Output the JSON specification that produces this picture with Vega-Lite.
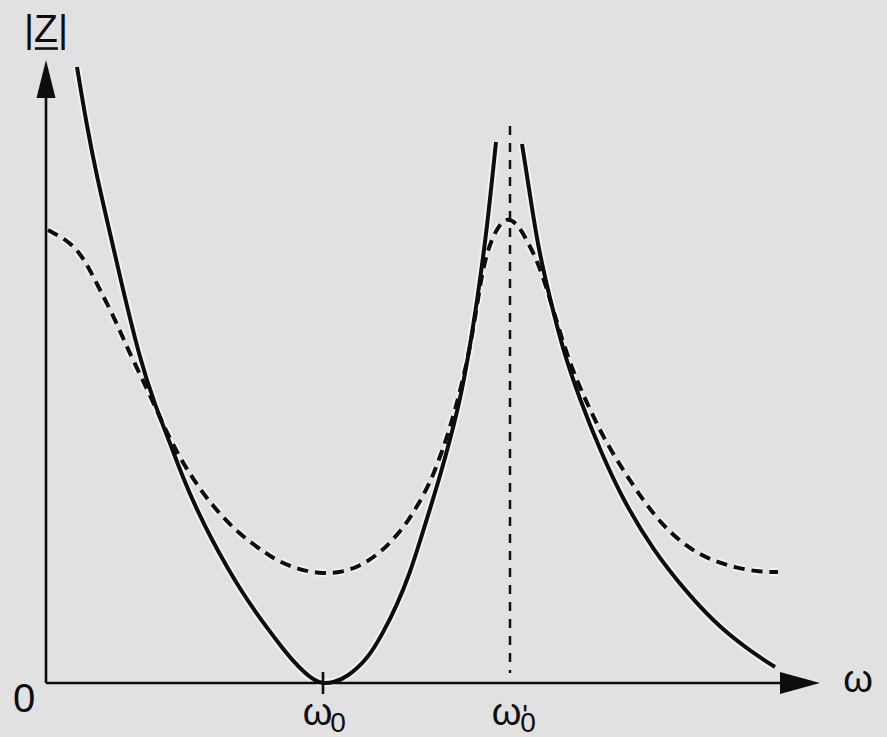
{
  "$schema": "https://vega.github.io/schema/vega-lite/v6.json",
  "width": 887,
  "height": 737,
  "padding": 0,
  "autosize": "none",
  "background": "#e1e1e1",
  "config": {"view": {"stroke": null}},
  "datasets": {
    "curves": [
      {"b": "A", "s": "solid", "i": 1, "w": 0.1119, "z": 6.16},
      {"b": "A", "s": "solid", "i": 2, "w": 0.1480, "z": 5.56},
      {"b": "A", "s": "solid", "i": 3, "w": 0.1841, "z": 5.06},
      {"b": "A", "s": "solid", "i": 4, "w": 0.2202, "z": 4.63},
      {"b": "A", "s": "solid", "i": 5, "w": 0.2671, "z": 4.06},
      {"b": "A", "s": "solid", "i": 6, "w": 0.3394, "z": 3.23},
      {"b": "A", "s": "solid", "i": 7, "w": 0.3935, "z": 2.78},
      {"b": "A", "s": "solid", "i": 8, "w": 0.4477, "z": 2.40},
      {"b": "A", "s": "solid", "i": 9, "w": 0.4946, "z": 2.05},
      {"b": "A", "s": "solid", "i": 10, "w": 0.5451, "z": 1.73},
      {"b": "A", "s": "solid", "i": 11, "w": 0.5993, "z": 1.43},
      {"b": "A", "s": "solid", "i": 12, "w": 0.6534, "z": 1.16},
      {"b": "A", "s": "solid", "i": 13, "w": 0.7076, "z": 0.91},
      {"b": "A", "s": "solid", "i": 14, "w": 0.7617, "z": 0.69},
      {"b": "A", "s": "solid", "i": 15, "w": 0.8014, "z": 0.54},
      {"b": "A", "s": "solid", "i": 16, "w": 0.8448, "z": 0.38},
      {"b": "A", "s": "solid", "i": 17, "w": 0.8917, "z": 0.22},
      {"b": "A", "s": "solid", "i": 18, "w": 0.9350, "z": 0.10},
      {"b": "A", "s": "solid", "i": 19, "w": 0.9675, "z": 0.03},
      {"b": "A", "s": "solid", "i": 20, "w": 1.0, "z": -0.01},
      {"b": "A", "s": "solid", "i": 21, "w": 1.0433, "z": 0.01},
      {"b": "A", "s": "solid", "i": 22, "w": 1.0866, "z": 0.06},
      {"b": "A", "s": "solid", "i": 23, "w": 1.1588, "z": 0.23},
      {"b": "A", "s": "solid", "i": 24, "w": 1.2166, "z": 0.50},
      {"b": "A", "s": "solid", "i": 25, "w": 1.2671, "z": 0.78},
      {"b": "A", "s": "solid", "i": 26, "w": 1.3141, "z": 1.10},
      {"b": "A", "s": "solid", "i": 27, "w": 1.3502, "z": 1.42},
      {"b": "A", "s": "solid", "i": 28, "w": 1.3863, "z": 1.74},
      {"b": "A", "s": "solid", "i": 29, "w": 1.4224, "z": 2.07},
      {"b": "A", "s": "solid", "i": 30, "w": 1.4585, "z": 2.43},
      {"b": "A", "s": "solid", "i": 31, "w": 1.4946, "z": 2.83},
      {"b": "A", "s": "solid", "i": 32, "w": 1.5235, "z": 3.25},
      {"b": "A", "s": "solid", "i": 33, "w": 1.5560, "z": 3.81},
      {"b": "A", "s": "solid", "i": 34, "w": 1.5921, "z": 4.54},
      {"b": "A", "s": "solid", "i": 35, "w": 1.6245, "z": 5.41},
      {"b": "B", "s": "solid", "i": 1, "w": 1.7184, "z": 5.39},
      {"b": "B", "s": "solid", "i": 2, "w": 1.7473, "z": 4.88},
      {"b": "B", "s": "solid", "i": 3, "w": 1.7762, "z": 4.36},
      {"b": "B", "s": "solid", "i": 4, "w": 1.8195, "z": 3.84},
      {"b": "B", "s": "solid", "i": 5, "w": 1.8664, "z": 3.33},
      {"b": "B", "s": "solid", "i": 6, "w": 1.9278, "z": 2.83},
      {"b": "B", "s": "solid", "i": 7, "w": 2.0, "z": 2.33},
      {"b": "B", "s": "solid", "i": 8, "w": 2.0830, "z": 1.83},
      {"b": "B", "s": "solid", "i": 9, "w": 2.1913, "z": 1.33},
      {"b": "B", "s": "solid", "i": 10, "w": 2.3141, "z": 0.90},
      {"b": "B", "s": "solid", "i": 11, "w": 2.4332, "z": 0.55},
      {"b": "B", "s": "solid", "i": 12, "w": 2.5523, "z": 0.30},
      {"b": "B", "s": "solid", "i": 13, "w": 2.6318, "z": 0.16},
      {"b": "D", "s": "dashed", "i": 1, "w": 0.0072, "z": 4.53},
      {"b": "D", "s": "dashed", "i": 2, "w": 0.0758, "z": 4.43},
      {"b": "D", "s": "dashed", "i": 3, "w": 0.1227, "z": 4.30},
      {"b": "D", "s": "dashed", "i": 4, "w": 0.1588, "z": 4.13},
      {"b": "D", "s": "dashed", "i": 5, "w": 0.1949, "z": 3.93},
      {"b": "D", "s": "dashed", "i": 6, "w": 0.2383, "z": 3.70},
      {"b": "D", "s": "dashed", "i": 7, "w": 0.2780, "z": 3.45},
      {"b": "D", "s": "dashed", "i": 8, "w": 0.3141, "z": 3.23},
      {"b": "D", "s": "dashed", "i": 9, "w": 0.3755, "z": 2.88},
      {"b": "D", "s": "dashed", "i": 10, "w": 0.4477, "z": 2.43},
      {"b": "D", "s": "dashed", "i": 11, "w": 0.5199, "z": 2.08},
      {"b": "D", "s": "dashed", "i": 12, "w": 0.6029, "z": 1.76},
      {"b": "D", "s": "dashed", "i": 13, "w": 0.7004, "z": 1.48},
      {"b": "D", "s": "dashed", "i": 14, "w": 0.7978, "z": 1.29},
      {"b": "D", "s": "dashed", "i": 15, "w": 0.8448, "z": 1.21},
      {"b": "D", "s": "dashed", "i": 16, "w": 0.9170, "z": 1.13},
      {"b": "D", "s": "dashed", "i": 17, "w": 1.0, "z": 1.09},
      {"b": "D", "s": "dashed", "i": 18, "w": 1.0722, "z": 1.11},
      {"b": "D", "s": "dashed", "i": 19, "w": 1.1336, "z": 1.17},
      {"b": "D", "s": "dashed", "i": 20, "w": 1.1949, "z": 1.28},
      {"b": "D", "s": "dashed", "i": 21, "w": 1.2419, "z": 1.40},
      {"b": "D", "s": "dashed", "i": 22, "w": 1.2888, "z": 1.55},
      {"b": "D", "s": "dashed", "i": 23, "w": 1.3249, "z": 1.70},
      {"b": "D", "s": "dashed", "i": 24, "w": 1.3610, "z": 1.87},
      {"b": "D", "s": "dashed", "i": 25, "w": 1.3935, "z": 2.05},
      {"b": "D", "s": "dashed", "i": 26, "w": 1.4152, "z": 2.21},
      {"b": "D", "s": "dashed", "i": 27, "w": 1.4404, "z": 2.40},
      {"b": "D", "s": "dashed", "i": 28, "w": 1.4585, "z": 2.56},
      {"b": "D", "s": "dashed", "i": 29, "w": 1.4765, "z": 2.73},
      {"b": "D", "s": "dashed", "i": 30, "w": 1.4946, "z": 2.92},
      {"b": "D", "s": "dashed", "i": 31, "w": 1.5235, "z": 3.25},
      {"b": "D", "s": "dashed", "i": 32, "w": 1.5523, "z": 3.70},
      {"b": "D", "s": "dashed", "i": 33, "w": 1.5776, "z": 4.17},
      {"b": "D", "s": "dashed", "i": 34, "w": 1.6101, "z": 4.45},
      {"b": "D", "s": "dashed", "i": 35, "w": 1.6390, "z": 4.59},
      {"b": "D", "s": "dashed", "i": 36, "w": 1.6643, "z": 4.65},
      {"b": "D", "s": "dashed", "i": 37, "w": 1.7004, "z": 4.60},
      {"b": "D", "s": "dashed", "i": 38, "w": 1.7401, "z": 4.41},
      {"b": "D", "s": "dashed", "i": 39, "w": 1.7834, "z": 4.16},
      {"b": "D", "s": "dashed", "i": 40, "w": 1.8303, "z": 3.74},
      {"b": "D", "s": "dashed", "i": 41, "w": 1.8917, "z": 3.18},
      {"b": "D", "s": "dashed", "i": 42, "w": 1.9531, "z": 2.80},
      {"b": "D", "s": "dashed", "i": 43, "w": 2.0108, "z": 2.46},
      {"b": "D", "s": "dashed", "i": 44, "w": 2.0830, "z": 2.13},
      {"b": "D", "s": "dashed", "i": 45, "w": 2.1552, "z": 1.83},
      {"b": "D", "s": "dashed", "i": 46, "w": 2.2274, "z": 1.57},
      {"b": "D", "s": "dashed", "i": 47, "w": 2.3141, "z": 1.36},
      {"b": "D", "s": "dashed", "i": 48, "w": 2.3971, "z": 1.23},
      {"b": "D", "s": "dashed", "i": 49, "w": 2.4946, "z": 1.15},
      {"b": "D", "s": "dashed", "i": 50, "w": 2.5776, "z": 1.11},
      {"b": "D", "s": "dashed", "i": 51, "w": 2.6426, "z": 1.11}
    ],
    "axes": [
      {"name": "yaxis", "w": 0, "z": 0, "w2": 0, "z2": 5.9},
      {"name": "xaxis", "w": 0, "z": 0, "w2": 2.70, "z2": 0},
      {"name": "tick", "w": 1, "z": 0.11, "w2": 1, "z2": -0.11},
      {"name": "underline", "w": -0.040, "z": 6.345, "w2": 0.043, "z2": 6.345}
    ],
    "guide": [
      {"name": "omega0prime", "w": 1.6751, "z": 5.57, "w2": 1.6751, "z2": 0.10}
    ],
    "arrows": [
      {"name": "up", "w": 0, "z": 6.04, "shape": "M0,-1L0.5,1L-0.5,1Z", "size": 1444},
      {"name": "right", "w": 2.722, "z": 0, "shape": "M1,0L-1,-0.55L-1,0.55Z", "size": 1600}
    ],
    "labels": [
      {"t": "|Z|", "w": 0, "z": 6.41, "size": 39},
      {"t": "0", "w": -0.0794, "z": -0.29, "size": 40},
      {"t": "ω", "w": 2.9314, "z": -0.09, "size": 38},
      {"t": "ω", "w": 0.980, "z": -0.42, "size": 38},
      {"t": "0", "w": 1.054, "z": -0.49, "size": 28},
      {"t": "ω", "w": 1.6625, "z": -0.42, "size": 38},
      {"t": "0", "w": 1.7401, "z": -0.49, "size": 28},
      {"t": "'", "w": 1.7292, "z": -0.42, "size": 30}
    ]
  },
  "encoding": {
    "x": {"field": "w", "type": "quantitative", "scale": {"domain": [-0.16606, 3.0361], "nice": false, "zero": false}, "axis": null},
    "y": {"field": "z", "type": "quantitative", "scale": {"domain": [-0.54, 6.83], "nice": false, "zero": false}, "axis": null}
  },
  "layer": [
    {
      "data": {"name": "curves"},
      "transform": [{"filter": "datum.s === 'solid'"}],
      "mark": {"type": "line", "interpolate": "basis", "stroke": "#ffffff", "strokeWidth": 8, "opacity": 0.55},
      "encoding": {"detail": {"field": "b"}, "order": {"field": "i", "type": "quantitative"}}
    },
    {
      "data": {"name": "curves"},
      "transform": [{"filter": "datum.s === 'dashed'"}],
      "mark": {"type": "line", "interpolate": "basis", "stroke": "#ffffff", "strokeWidth": 8, "opacity": 0.55, "strokeDash": [11, 7]},
      "encoding": {"detail": {"field": "b"}, "order": {"field": "i", "type": "quantitative"}}
    },
    {
      "data": {"name": "curves"},
      "transform": [{"filter": "datum.s === 'solid'"}],
      "mark": {"type": "line", "interpolate": "basis", "stroke": "#0d0d0d", "strokeWidth": 4},
      "encoding": {"detail": {"field": "b"}, "order": {"field": "i", "type": "quantitative"}}
    },
    {
      "data": {"name": "curves"},
      "transform": [{"filter": "datum.s === 'dashed'"}],
      "mark": {"type": "line", "interpolate": "basis", "stroke": "#0d0d0d", "strokeWidth": 4, "strokeDash": [11, 7]},
      "encoding": {"detail": {"field": "b"}, "order": {"field": "i", "type": "quantitative"}}
    },
    {
      "data": {"name": "guide"},
      "mark": {"type": "rule", "stroke": "#111111", "strokeWidth": 2.5, "strokeDash": [9, 8]},
      "encoding": {"x2": {"field": "w2"}, "y2": {"field": "z2"}}
    },
    {
      "data": {"name": "axes"},
      "mark": {"type": "rule", "stroke": "#0d0d0d", "strokeWidth": 2.6},
      "encoding": {"x2": {"field": "w2"}, "y2": {"field": "z2"}}
    },
    {
      "data": {"name": "arrows"},
      "mark": {"type": "point", "filled": true, "fill": "#0d0d0d", "stroke": null, "opacity": 1},
      "encoding": {
        "shape": {"field": "shape", "type": "nominal", "scale": null},
        "size": {"field": "size", "type": "quantitative", "scale": null}
      }
    },
    {
      "data": {"name": "labels"},
      "mark": {"type": "text", "font": "Liberation Sans", "align": "center", "baseline": "alphabetic", "fill": "#0d0d0d"},
      "encoding": {
        "text": {"field": "t"},
        "size": {"field": "size", "type": "quantitative", "scale": null}
      }
    }
  ]
}
